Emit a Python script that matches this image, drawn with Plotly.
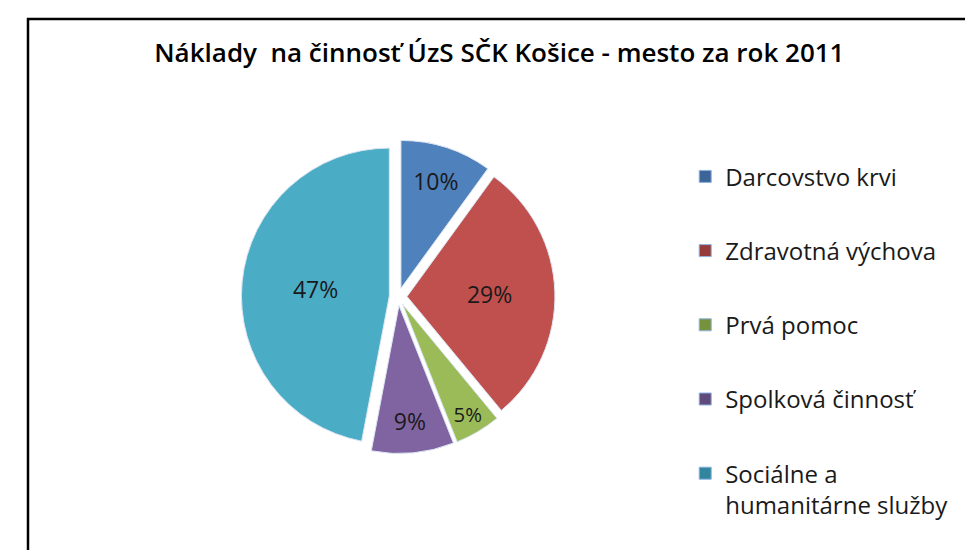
import plotly.graph_objects as go

categories = ["Darcovstvo krvi", "Zdravotná výchova", "Prvá pomoc",
              "Spolková činnosť", "Sociálne a<br>humanitárne služby"]
values = [10, 29, 5, 9, 47]
colors = ["#4F81BD", "#C0504D", "#9BBB59", "#8064A2", "#4BACC6"]
legend_colors = ["#3D6497", "#953B39", "#76923C", "#5F4A7B", "#31859C"]

FONT = "Open Sans"

fig = go.Figure()
fig.add_trace(go.Pie(
    labels=categories,
    values=values,
    sort=False,
    direction="clockwise",
    rotation=0,
    marker=dict(colors=colors, line=dict(color="#dce6f2", width=1)),
    pull=[0.06] * len(values),
    textinfo="percent",
    texttemplate="%{percent:.0%}",
    textposition="inside",
    insidetextorientation="horizontal",
    textfont=dict(family=FONT, size=23, color="#1a1a1a"),
    domain=dict(x=[0.238, 0.564], y=[0.19, 0.76]),
    hoverinfo="label+percent",
    showlegend=False,
))

# legend entries (one per category, spaced like the original)
for name, col in zip(categories, legend_colors):
    fig.add_trace(go.Scatter(
        x=[None], y=[None], mode="markers", name=name, legendgroup=name,
        marker=dict(symbol="square", size=12, color=col,
                    line=dict(color="#8db3e2", width=1)),
        hoverinfo="skip",
    ))

fig.update_layout(
    width=973, height=550,
    margin=dict(l=0, r=0, t=0, b=0),
    paper_bgcolor="white",
    plot_bgcolor="white",
    xaxis=dict(visible=False),
    yaxis=dict(visible=False),
    title=dict(text="Náklady\u00a0 na činnosť ÚzS SČK Košice - mesto za rok 2011",
               x=0.505, xanchor="center", y=0.918, yanchor="middle",
               font=dict(family=FONT, size=26, color="#000000", weight=600)),
    legend=dict(x=0.696, y=0.734, xanchor="left", yanchor="top",
                font=dict(family=FONT, size=24, color="#1a1a1a"),
                valign="top", itemwidth=30, traceorder="grouped",
                tracegroupgap=40, itemclick=False,
                bgcolor="rgba(0,0,0,0)"),
    shapes=[dict(type="rect", xref="paper", yref="paper",
                 x0=20/973, x1=967/973, y0=-0.05, y1=1 - 11/550,
                 line=dict(color="black", width=2.5))],
)

fig.write_html("out.html")
